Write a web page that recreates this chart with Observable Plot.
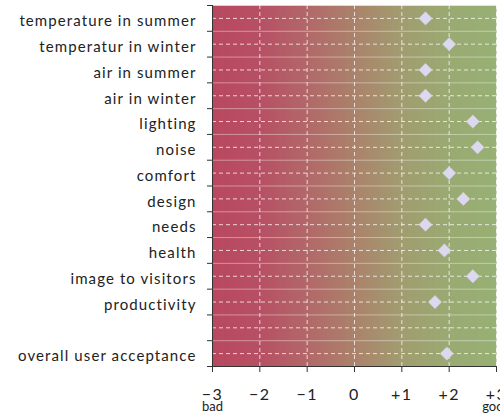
<!DOCTYPE html>
<html>
<head>
<meta charset="utf-8">
<script src="https://cdn.jsdelivr.net/npm/d3@7"></script>
<script src="https://cdn.jsdelivr.net/npm/@observablehq/plot@0.6"></script>
<style>
  html, body { margin: 0; padding: 0; background: white; overflow: hidden; }
</style>
</head>
<body>
<div id="chart"></div>
<script>
// Categories top to bottom ("" is the empty spacer row)
const categories = [
  "temperature in summer",
  "temperatur in winter",
  "air in summer",
  "air in winter",
  "lighting",
  "noise",
  "comfort",
  "design",
  "needs",
  "health",
  "image to visitors",
  "productivity",
  "",
  "overall user acceptance"
];
const values = [1.5, 2.0, 1.5, 1.5, 2.5, 2.6, 2.0, 2.3, 1.5, 1.9, 2.5, 1.7, null, 1.95];
const xTicks = [-3, -2, -1, 0, 1, 2, 3];
const xTickLabels = ["\u22123", "\u22122", "\u22121", "0", "+1", "+2", "+3"];
const endLabels = [{x: -3, label: "bad"}, {x: 3, label: "good"}];
const gradientStops = [-3, -2, -1, 0, 1, 2, 3];
const gradientColors = ["#b9485f", "#b75064", "#b26868", "#ab826b", "#a19d70", "#9aaa72", "#97b074"];

const rows = categories.length;
const data = categories.map((c, i) => ({category: c, row: i + 0.5, value: values[i]}))
  .filter(d => d.value != null);
const centers = d3.range(rows).map(i => i + 0.5);
const bounds = d3.range(rows + 1);
const bgColor = d3.scaleLinear().domain(gradientStops).range(gradientColors);

const chart = Plot.plot({
  width: 500,
  height: 418,
  marginLeft: 212,
  marginRight: 4,
  marginTop: 5,
  marginBottom: 52,
  style: {fontFamily: "Lato, sans-serif", color: "#222", background: "white"},
  x: {domain: [-3, 3], label: null},
  y: {domain: [rows, 0], label: null},
  marks: [
    Plot.raster({x1: -3, x2: 3, y1: 0, y2: rows, width: 300, height: 2,
      fill: (x, y) => bgColor(x), interpolate: null}),
    Plot.gridY(bounds, {stroke: "white", strokeOpacity: 0.4, strokeWidth: 1}),
    Plot.gridY(centers, {stroke: "white", strokeOpacity: 0.75, strokeDasharray: "4,3"}),
    Plot.gridX(xTicks.slice(1), {stroke: "white", strokeOpacity: 0.75, strokeDasharray: "4,3"}),
    Plot.ruleX([-3], {stroke: "#333"}),
    Plot.ruleY([rows], {stroke: "#333"}),
    Plot.axisY(bounds, {tickSize: 5, tickFormat: () => "", stroke: "#333", label: null}),
    Plot.axisY(centers, {tickSize: 0, tickPadding: 16, fontSize: 15, dy: 3, label: null,
      tickFormat: v => categories[Math.floor(v)], fill: "#222"}),
    Plot.axisX(xTicks, {tickSize: 6, tickPadding: 16, fontSize: 16, stroke: "#333", label: null,
      tickFormat: (v) => xTickLabels[xTicks.indexOf(v)], fill: "#222"}),
    Plot.text(endLabels, {x: "x", text: "label", frameAnchor: "bottom", dy: 44, fontSize: 13, fill: "#222"}),
    Plot.dot(data, {x: "value", y: "row", symbol: "diamond2", r: 6, fill: "#dcd8ee", stroke: "#cfcbe6", strokeWidth: 0.5})
  ]
});
d3.select(chart).selectAll("g[aria-label='y-axis tick label'] text").style("letter-spacing", "1.1px");
d3.select(chart).selectAll("g[aria-label='x-axis tick label'] text").style("letter-spacing", "1.5px");
document.getElementById("chart").appendChild(chart);
</script>
</body>
</html>
